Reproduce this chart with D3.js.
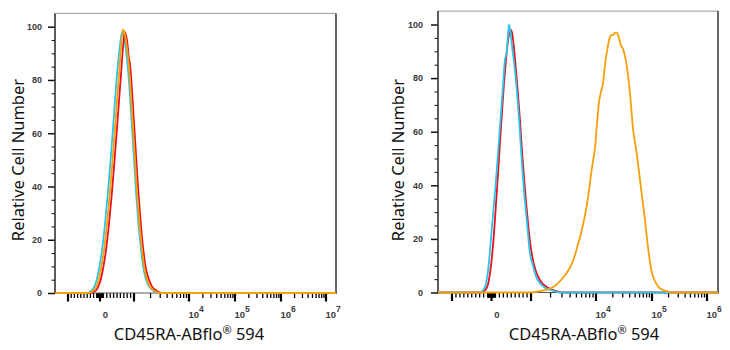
<!DOCTYPE html>
<html>
<head>
<meta charset="utf-8">
<script src="https://cdn.jsdelivr.net/npm/d3@7"></script>
<style>
  html, body { margin: 0; padding: 0; background: #fff; }
  svg { display: block; }
</style>
</head>
<body>
<svg id="chart" width="730" height="350"></svg>
<script>
// ---------------- DATA ----------------
const yMajorTicks = [0, 20, 40, 60, 80, 100];
const yMinorTicks = [5, 10, 15, 25, 30, 35, 45, 50, 55, 65, 70, 75, 85, 90, 95];

const leftMajorTicks = [-1000, 0, 1000, 1e4, 1e5, 1e6, 1e7];
const rightMajorTicks = [-1000, 0, 1000, 1e4, 1e5, 1e6];
const leftTickLabels = [0, 1e4, 1e5, 1e6, 1e7];
const rightTickLabels = [0, 1e4, 1e5, 1e6];

const yTitle = "Relative Cell Number";
const xTitleMain = "CD45RA-ABflo";
const xTitleSup = "®";
const xTitleEnd = " 594";

// Left panel histograms: [fluorescence, relative count]
const leftCyan = [[-1400,0],[-438,0],[-312,0.5],[-219,1.5],[-125,4],[-31,9],[59,16],[147,26],[235,38],[324,52],[412,67],[500,82],[588,93],[647,98],[706,96],[765,91],[824,84],[882,74],[941,62],[1000,50],[1087,38],[1182,28],[1285,20],[1397,13],[1520,8],[1722,4],[1954,2],[2310,0.7],[2848,0],[2e7,0]];
const leftRed = [[-1400,0],[-312,0],[-188,0.5],[-94,1.5],[0,4],[88,9],[176,16],[265,26],[353,38],[441,52],[529,67],[618,82],[676,92],[735,98],[794,95],[853,88],[882,86],[941,76],[1000,64],[1087,52],[1182,40],[1285,30],[1397,21],[1520,14],[1652,9],[1874,5],[2125,2.5],[2512,1],[3228,0],[2e7,0]];
const leftOrange = [[-1400,0],[-375,0],[-250,0.5],[-156,1.5],[-62,4],[29,9],[118,16],[206,26],[294,38],[382,52],[471,67],[559,82],[618,92],[676,99],[735,97],[794,92],[853,85],[912,74],[971,62],[1042,50],[1134,38],[1233,28],[1340,20],[1458,13],[1585,8],[1797,4],[2037,2],[2409,0.7],[2972,0],[2e7,0]];

// Right panel histograms
const rightRed = [[-1400,0],[-266,0],[-165,0.8],[-89,3],[-13,10],[63,22],[114,33],[190,50],[241,62],[316,78],[367,87],[418,94],[468,97.5],[494,98],[519,97],[570,91],[620,83],[671,74],[722,64],[772,53],[823,43],[873,34],[924,26],[975,19],[1036,14],[1152,9],[1281,6],[1476,3.5],[1763,2],[2259,0.8],[3105,0],[2e6,0]];
const rightCyan = [[-1400,0],[-342,0],[-241,0.5],[-165,2],[-89,8],[-13,20],[38,29],[114,42],[165,52],[215,62],[291,77],[342,87],[380,89],[418,96],[443,100],[481,97],[519,92],[570,86],[620,79],[671,70],[722,59],[772,48],[823,38],[873,30],[924,22],[962,16],[1073,10],[1194,6],[1375,3.5],[1642,1.8],[2104,0.8],[2793,0],[2e6,0]];
const rightOrange = [[-1400,0],[975,0],[1376,0.5],[1826,1.2],[2180,2],[2603,3.5],[3107,5.5],[3579,7.5],[4125,10],[4753,14],[5285,18],[5876,22],[6537,27],[7268,33],[7804,38],[8377,44],[8991,49],[9652,54],[10420,63],[11316,71],[12285,75],[13335,78],[14476,85],[15718,90],[17066,94],[18530,96],[20120,96],[21840,97],[23714,97],[25743,95],[27950,92],[30350,91],[32960,88],[35780,84],[38850,78],[42170,70],[45790,61],[49720,56],[53980,51],[58610,45],[63630,39],[69090,33],[74990,27],[81420,20],[88400,14],[95980,9],[104300,6],[118200,3.5],[139800,1.5],[172400,0.7],[231000,0],[2e6,0]];

// ---------------- STYLE / LAYOUT ----------------
const COL = { cyan: "#2ec4ea", red: "#e8101e", orange: "#f5a00a" };
const TICK_FONT = "Liberation Sans, Arial, sans-serif";

// biexponential-like display transform: linear within ±1000, log above
function toDecade(v) { return v <= 1000 ? v / 1000 : 1 + Math.log10(v / 1000); }

function minorTicksFor(maxExp) {
  const out = [];
  for (let m = 1; m <= 9; m++) { out.push(m * 10, -m * 10); }
  for (let m = 1; m <= 9; m++) { out.push(m * 100, -m * 100); }
  for (let e = 3; e < maxExp; e++) {
    for (let m = 2; m <= 9; m++) out.push(m * Math.pow(10, e));
  }
  return out;
}

const svg = d3.select("#chart");

function drawPanel(cfg) {
  const lin = d3.scaleLinear().domain(cfg.decades).range(cfg.stops);
  const x = v => lin(toDecade(v));
  const y = d3.scaleLinear().domain([0, 100]).range([cfg.y0, cfg.y100]);
  const top = y(105);

  const g = svg.append("g");
  const clipId = "clip" + cfg.id;
  svg.append("clipPath").attr("id", clipId).append("rect")
    .attr("x", cfg.x0).attr("y", top - 2).attr("width", cfg.x1 - cfg.x0).attr("height", cfg.y0 - top + 4);

  // y axis (major)
  const yMaj = d3.axisLeft(y).tickValues(yMajorTicks).tickSize(7).tickPadding(cfg.yPad).tickFormat(d3.format("d"));
  const ya = g.append("g").attr("transform", `translate(${cfg.x0},0)`).call(yMaj);
  ya.select(".domain").remove();
  ya.selectAll("line").attr("stroke", "#111").attr("stroke-width", 1.5);
  ya.selectAll("text").attr("font-family", TICK_FONT).attr("font-size", 9)
    .attr("font-weight", "bold").attr("fill", "#3a3a3a");
  const yMin = d3.axisLeft(y).tickValues(yMinorTicks).tickSize(3.5).tickFormat("");
  const yb = g.append("g").attr("transform", `translate(${cfg.x0},0)`).call(yMin);
  yb.select(".domain").remove();
  yb.selectAll("line").attr("stroke", "#222").attr("stroke-width", 1.1);

  // x ticks
  const minor = minorTicksFor(cfg.maxExp);
  g.append("g").selectAll("line").data(minor).join("line")
    .attr("x1", d => x(d)).attr("x2", d => x(d))
    .attr("y1", cfg.y0).attr("y2", cfg.y0 + 5)
    .attr("stroke", "#000").attr("stroke-width", 1.3);
  g.append("g").selectAll("line").data(cfg.major).join("line")
    .attr("x1", d => x(d)).attr("x2", d => x(d))
    .attr("y1", cfg.y0).attr("y2", cfg.y0 + 8.5)
    .attr("stroke", "#000").attr("stroke-width", 2.2);

  // x tick labels
  const lab = g.append("g").selectAll("text").data(cfg.labels).join("text")
    .attr("font-family", TICK_FONT).attr("font-size", 9.5).attr("font-weight", "bold").attr("fill", "#3a3a3a")
    .attr("y", 318);
  lab.filter(d => d === 0).attr("x", d => x(d) + 5.5).attr("text-anchor", "middle").text("0");
  lab.filter(d => d !== 0).attr("x", d => x(d) - 0.5).attr("text-anchor", "start")
    .each(function (d) {
      const t = d3.select(this);
      t.append("tspan").text("10");
      t.append("tspan").attr("dy", -6).attr("font-size", 8.5).text(Math.round(Math.log10(d)));
    });

  // frame
  g.append("line").attr("x1", cfg.x0).attr("x2", cfg.x1).attr("y1", top).attr("y2", top)
    .attr("stroke", "#999").attr("stroke-width", 1);
  g.append("line").attr("x1", cfg.x1).attr("x2", cfg.x1).attr("y1", top).attr("y2", cfg.y0 + 1)
    .attr("stroke", "#666").attr("stroke-width", 2);
  g.append("line").attr("x1", cfg.x0).attr("x2", cfg.x1).attr("y1", cfg.y0).attr("y2", cfg.y0)
    .attr("stroke", "#555").attr("stroke-width", 1);
  g.append("line").attr("x1", cfg.x0).attr("x2", cfg.x0).attr("y1", top).attr("y2", cfg.y0 + 1)
    .attr("stroke", "#333").attr("stroke-width", 1.6);

  // curves
  const line = d3.line().x(d => x(d[0])).y(d => y(d[1])).curve(d3.curveMonotoneX);
  const cg = g.append("g").attr("clip-path", `url(#${clipId})`);
  cfg.series.forEach(s => {
    cg.append("path").datum(s.data).attr("d", line)
      .attr("fill", "none").attr("stroke", s.color).attr("stroke-width", 1.8)
      .attr("stroke-linejoin", "round");
  });

  // titles
  g.append("text")
    .attr("transform", `translate(${cfg.yTitleX},${cfg.yTitleY}) rotate(-90)`)
    .attr("text-anchor", "middle")
    .attr("font-family", "Noto Sans, Open Sans, sans-serif").attr("font-size", 16.5).attr("fill", "#111")
    .text(yTitle);
  const xt = g.append("text")
    .attr("x", cfg.xTitleX).attr("y", 340)
    .attr("text-anchor", "middle")
    .attr("font-family", "Noto Sans, Open Sans, sans-serif").attr("font-size", 16.5).attr("fill", "#111");
  xt.append("tspan").text(xTitleMain);
  xt.append("tspan").attr("dy", -6).attr("font-size", 11).text(xTitleSup);
  xt.append("tspan").attr("dy", 6).text(xTitleEnd);
}

drawPanel({
  id: "L", x0: 55, x1: 336, decades: [-1, 0, 1, 2, 3, 4, 5], stops: [68, 100, 134, 189, 235, 281, 326],
  y0: 293, y100: 26.7, yPad: 6, maxExp: 7, major: leftMajorTicks, labels: leftTickLabels,
  yTitleX: 23.5, yTitleY: 160, xTitleX: 189,
  series: [
    { data: leftCyan, color: COL.cyan },
    { data: leftRed, color: COL.red },
    { data: leftOrange, color: COL.orange }
  ]
});

drawPanel({
  id: "R", x0: 438, x1: 718, decades: [-1, 0, 1, 2, 3, 4], stops: [452, 491.5, 531, 596, 652, 707],
  y0: 292.5, y100: 24.5, yPad: 8, maxExp: 6, major: rightMajorTicks, labels: rightTickLabels,
  yTitleX: 403.5, yTitleY: 160, xTitleX: 584,
  series: [
    { data: rightRed, color: COL.red },
    { data: rightCyan, color: COL.cyan },
    { data: rightOrange, color: COL.orange }
  ]
});
</script>
</body>
</html>
